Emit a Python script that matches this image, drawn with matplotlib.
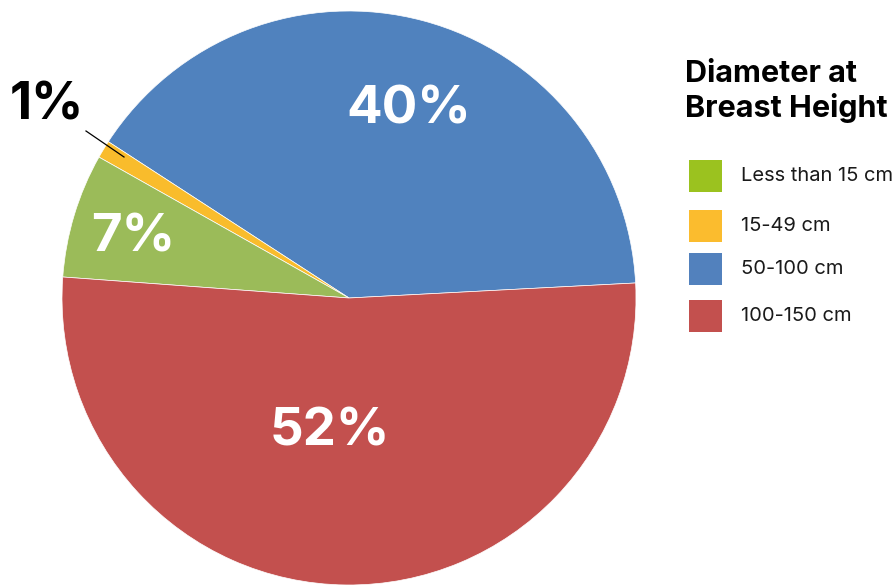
"""Pie chart: tree diameter at breast height distribution."""

import matplotlib
matplotlib.use("Agg")
import matplotlib.pyplot as plt
from matplotlib.patches import Rectangle

# Data (counter-clockwise order starting at the right edge)
labels = ['50-100 cm', '15-49 cm', 'Less than 15 cm', '100-150 cm']
shares = [40, 1, 7, 52]
pie_colors = ['#5082BE', '#F9BC2C', '#9BBB59', '#C3504E']

# Legend order as shown on the right
legend_labels = ['Less than 15 cm', '15-49 cm', '50-100 cm', '100-150 cm']
legend_colors = ['#9BC21F', '#FBBC2E', '#5281BD', '#C3504E']

FONT = ['Inter', 'DejaVu Sans']
W, H = 896, 585

fig = plt.figure(figsize=(W / 100, H / 100), dpi=100)

# Pie axes: centre ~(349, 298) px, radius ~287 px
cx, cy, r = 349, 298, 287
ax = fig.add_axes([(cx - r) / W, (H - cy - r) / H, 2 * r / W, 2 * r / H])
wedges, _ = ax.pie(shares, colors=pie_colors, startangle=3, counterclock=True,
                   radius=1, wedgeprops=dict(linewidth=0.5, edgecolor='white'))
ax.set_xlim(-1, 1)
ax.set_ylim(-1, 1)
ax.set_aspect('equal')
ax.axis('off')


def px(x, y):
    """Pixel coordinates (from top-left) to pie data coordinates."""
    return (x - cx) / r, (cy - y) / r


# Slice labels
for text, (x, y), col in [('40%', (409, 110), 'white'),
                          ('52%', (330, 432), 'white'),
                          ('7%', (133, 238), 'white')]:
    ax.text(*px(x, y), text, color=col, fontsize=38, fontweight='bold',
            ha='center', va='center', family=FONT)

ax.text(*px(47, 106), '1%', color='black', fontsize=37, fontweight='bold',
        ha='center', va='center', family=FONT)
ax.plot(*zip(px(86, 131), px(124, 157)), color='black', lw=0.9)

# Legend title
fig.text(685 / W, 1 - 60 / H, 'Diameter at\nBreast Height', fontsize=22,
         fontweight='bold', ha='left', va='top', linespacing=1.2, family=FONT)

# Legend entries
ys = [176, 226, 269, 316]
for lab, col, y in zip(legend_labels, legend_colors, ys):
    fig.add_artist(Rectangle(((689) / W, 1 - (y + 16) / H), 33 / W, 32 / H,
                             transform=fig.transFigure, color=col, lw=0))
    fig.text(741 / W, 1 - y / H, lab, fontsize=14.5, ha='left', va='center',
             color='#1a1a1a', family=FONT)

fig.savefig('out.png', dpi=100)
